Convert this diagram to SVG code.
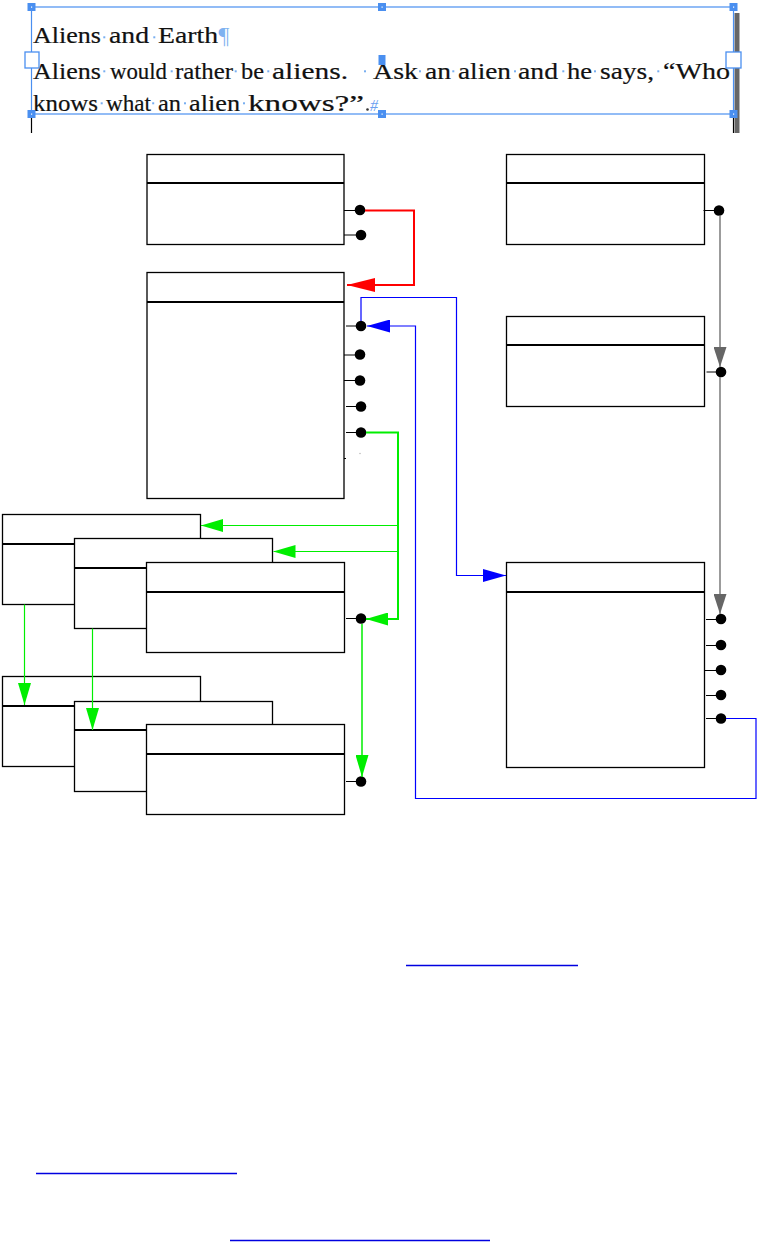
<svg xmlns="http://www.w3.org/2000/svg" width="784" height="1242" viewBox="0 0 784 1242">
<style>
.box{fill:#fff;stroke:#000;stroke-width:1.3}
.dv{stroke:#000;stroke-width:2}
.stub{stroke:#000;stroke-width:1}
.dot{fill:#000}
.frame{fill:none;stroke:#4a8ff0;stroke-width:1.2}
.h{fill:#4a8ff0}
.hc{fill:#fff}
.hh{fill:#fff;stroke:#4a8ff0;stroke-width:1.3}
.t{font-family:"Liberation Serif","Times New Roman",serif;font-size:24px;fill:#111;stroke:#111;stroke-width:0.2}
.mk{fill:#78aef0}
.link{stroke:#0000e0;stroke-width:1.5}
.red{fill:none;stroke:#ff0000;stroke-width:2}
.blue{fill:none;stroke:#0000ff;stroke-width:1.2}
.grn{fill:none;stroke:#00ee00;stroke-width:2}
.grn1{fill:none;stroke:#00ee00;stroke-width:1.2}
.gray{fill:none;stroke:#666;stroke-width:1.3}
</style>
<defs>
<marker id="aR" markerUnits="userSpaceOnUse" markerWidth="28" markerHeight="14" refX="28" refY="7" orient="auto"><path d="M0,0 L28,7 L0,14 z" fill="#ff0000"/></marker>
<marker id="aB" markerUnits="userSpaceOnUse" markerWidth="23" markerHeight="13" refX="23" refY="6.5" orient="auto"><path d="M0,0 L23,6.5 L0,13 z" fill="#0000ff"/></marker>
<marker id="aG" markerUnits="userSpaceOnUse" markerWidth="22" markerHeight="13" refX="22" refY="6.5" orient="auto"><path d="M0,0 L22,6.5 L0,13 z" fill="#00ee00"/></marker>
<marker id="aY" markerUnits="userSpaceOnUse" markerWidth="20" markerHeight="13" refX="20" refY="6.5" orient="auto"><path d="M0,0 L20,6.5 L0,13 z" fill="#666"/></marker>
</defs>
<rect width="784" height="1242" fill="#fff"/>

<g id="textframe">
<line x1="31.5" y1="114" x2="31.5" y2="133" stroke="#000" stroke-width="1.2"/>
<line x1="733.5" y1="114" x2="733.5" y2="133" stroke="#000" stroke-width="1.2"/>
<rect x="734.5" y="13" width="5" height="120" fill="#666"/>
<rect class="frame" x="31.5" y="7" width="702" height="107"/>
<text class="t" y="43"><tspan x="33" textLength="68" lengthAdjust="spacingAndGlyphs">Aliens</tspan> <tspan x="109" textLength="40" lengthAdjust="spacingAndGlyphs">and</tspan> <tspan x="158" textLength="60" lengthAdjust="spacingAndGlyphs">Earth</tspan><tspan x="218.5" fill="#7fb2f0" stroke="none">¶</tspan></text>
<text class="t" y="79"><tspan x="33" textLength="68" lengthAdjust="spacingAndGlyphs">Aliens</tspan> <tspan x="110" textLength="57" lengthAdjust="spacingAndGlyphs">would</tspan> <tspan x="175" textLength="58" lengthAdjust="spacingAndGlyphs">rather</tspan> <tspan x="241" textLength="23" lengthAdjust="spacingAndGlyphs">be</tspan> <tspan x="272" textLength="76" lengthAdjust="spacingAndGlyphs">aliens.</tspan> <tspan x="373" textLength="45" lengthAdjust="spacingAndGlyphs">Ask</tspan> <tspan x="425" textLength="26" lengthAdjust="spacingAndGlyphs">an</tspan> <tspan x="458" textLength="53" lengthAdjust="spacingAndGlyphs">alien</tspan> <tspan x="518" textLength="40" lengthAdjust="spacingAndGlyphs">and</tspan> <tspan x="567" textLength="25" lengthAdjust="spacingAndGlyphs">he</tspan> <tspan x="600" textLength="54" lengthAdjust="spacingAndGlyphs">says,</tspan> <tspan x="663" textLength="67" lengthAdjust="spacingAndGlyphs">“Who</tspan></text>
<text class="t" y="111"><tspan x="33" textLength="65" lengthAdjust="spacingAndGlyphs">knows</tspan> <tspan x="106" textLength="45" lengthAdjust="spacingAndGlyphs">what</tspan> <tspan x="158" textLength="23" lengthAdjust="spacingAndGlyphs">an</tspan> <tspan x="189" textLength="51" lengthAdjust="spacingAndGlyphs">alien</tspan> <tspan x="248" textLength="116" lengthAdjust="spacingAndGlyphs">knows?”</tspan><tspan x="370" font-size="16" font-style="italic" fill="#6aa0f0" stroke="none">#</tspan></text>
<circle cx="367.5" cy="109.5" r="1.3" fill="#333"/>
<g class="mk">
<rect x="103.3" y="36.3" width="2" height="2"/><rect x="153.3" y="36.3" width="2" height="2"/>
<rect x="103.3" y="70.3" width="2" height="2"/><rect x="170.7" y="70.3" width="2" height="2"/><rect x="234.7" y="70.3" width="2" height="2"/><rect x="267.3" y="70.3" width="2" height="2"/><rect x="364" y="70.3" width="2" height="2"/><rect x="419" y="70.3" width="2" height="2"/><rect x="452.3" y="70.3" width="2" height="2"/><rect x="514" y="70.3" width="2" height="2"/><rect x="562.3" y="70.3" width="2" height="2"/><rect x="594" y="70.3" width="2" height="2"/><rect x="657.3" y="70.3" width="2" height="2"/>
<rect x="100.7" y="102.3" width="2" height="2"/><rect x="152.2" y="102.3" width="2" height="2"/><rect x="184" y="102.3" width="2" height="2"/><rect x="243" y="102.3" width="2" height="2"/>
</g>
<rect class="h" x="27.5" y="3" width="8" height="8"/><rect class="h" x="378" y="3" width="8" height="8"/><rect class="h" x="729.5" y="3" width="8" height="8"/>
<rect class="h" x="27.5" y="110" width="8" height="8"/><rect class="h" x="378" y="110" width="8" height="8"/><rect class="h" x="729.5" y="110" width="8" height="8"/>
<rect class="h" x="378.5" y="55" width="7" height="10"/>
<rect class="hc" x="31" y="6.5" width="1.2" height="1.2"/><rect class="hc" x="381.5" y="6.5" width="1.2" height="1.2"/><rect class="hc" x="733" y="6.5" width="1.2" height="1.2"/>
<rect class="hc" x="31" y="113.5" width="1.2" height="1.2"/><rect class="hc" x="381.5" y="113.5" width="1.2" height="1.2"/><rect class="hc" x="733" y="113.5" width="1.2" height="1.2"/>
<rect class="hh" x="25" y="52" width="14" height="16"/>
<rect class="hh" x="726" y="52" width="15" height="16"/>
</g>

<g id="nodeA">
<rect class="box" x="147" y="154.5" width="197" height="90"/>
<line class="dv" x1="147" y1="183" x2="344" y2="183"/>
<line class="stub" x1="344" y1="210.5" x2="356" y2="210.5"/><circle class="dot" cx="360" cy="210" r="5.3"/>
<line class="stub" x1="344" y1="235" x2="356" y2="235"/><circle class="dot" cx="361" cy="235" r="5.3"/>
</g>
<g id="nodeB">
<rect class="box" x="147" y="272.5" width="197" height="226"/>
<line class="dv" x1="147" y1="302" x2="344" y2="302"/>
<line class="stub" x1="346" y1="326" x2="356" y2="326"/><circle class="dot" cx="361" cy="326" r="5.3"/>
<line class="stub" x1="344" y1="355" x2="356" y2="355"/><circle class="dot" cx="360" cy="354.5" r="5.3"/>
<line class="stub" x1="344" y1="380.5" x2="356" y2="380.5"/><circle class="dot" cx="360" cy="380.5" r="5.3"/>
<line class="stub" x1="346" y1="406.5" x2="356" y2="406.5"/><circle class="dot" cx="361" cy="406.5" r="5.3"/>
<line class="stub" x1="346" y1="432.5" x2="356" y2="432.5"/><circle class="dot" cx="361" cy="432.5" r="5.3"/>
<line class="stub" x1="344" y1="458.5" x2="346" y2="458.5"/><circle cx="360" cy="453.5" r="0.8" fill="#bbb"/>
</g>
<g id="nodeC1">
<rect class="box" x="2.5" y="514.5" width="198" height="90"/>
<line class="dv" x1="2.5" y1="544" x2="200.5" y2="544"/>
</g>
<g id="nodeC2">
<rect class="box" x="74.5" y="538.5" width="198" height="90"/>
<line class="dv" x1="74.5" y1="568" x2="272.5" y2="568"/>
</g>
<g id="nodeC3">
<rect class="box" x="146.5" y="562.5" width="198" height="90"/>
<line class="dv" x1="146.5" y1="592" x2="344.5" y2="592"/>
<line class="stub" x1="346" y1="618.5" x2="356" y2="618.5"/><circle class="dot" cx="361" cy="618.5" r="5.3"/>
</g>
<g id="nodeE1">
<rect class="box" x="2.5" y="676.5" width="198" height="90"/>
<line class="dv" x1="2.5" y1="706" x2="200.5" y2="706"/>
</g>
<g id="nodeE2">
<rect class="box" x="74.5" y="701.5" width="198" height="90"/>
<line class="dv" x1="74.5" y1="730" x2="272.5" y2="730"/>
</g>
<g id="nodeE3">
<rect class="box" x="146.5" y="724.5" width="198" height="90"/>
<line class="dv" x1="146.5" y1="754" x2="344.5" y2="754"/>
<line class="stub" x1="346" y1="781.5" x2="356" y2="781.5"/><circle class="dot" cx="361" cy="781.5" r="5.3"/>
</g>
<g id="nodeF">
<rect class="box" x="506.5" y="154.5" width="198" height="90"/>
<line class="dv" x1="506.5" y1="183" x2="704.5" y2="183"/>
<line class="stub" x1="703.5" y1="210.5" x2="715" y2="210.5"/><circle class="dot" cx="719" cy="210.5" r="5.3"/>
</g>
<g id="nodeG">
<rect class="box" x="506.5" y="316.5" width="198" height="90"/>
<line class="dv" x1="506.5" y1="345" x2="704.5" y2="345"/>
<line class="stub" x1="706.5" y1="372" x2="716" y2="372"/><circle class="dot" cx="721" cy="372" r="5.3"/>
</g>
<g id="nodeD">
<rect class="box" x="506.5" y="562.5" width="198" height="205"/>
<line class="dv" x1="506.5" y1="592" x2="704.5" y2="592"/>
<line class="stub" x1="706" y1="619.5" x2="716" y2="619.5"/><circle class="dot" cx="721" cy="619" r="5.3"/>
<line class="stub" x1="706" y1="645.5" x2="716" y2="645.5"/><circle class="dot" cx="721" cy="645" r="5.3"/>
<line class="stub" x1="704.5" y1="670.5" x2="716" y2="670.5"/><circle class="dot" cx="721" cy="670" r="5.3"/>
<line class="stub" x1="706" y1="695.5" x2="716" y2="695.5"/><circle class="dot" cx="721" cy="695" r="5.3"/>
<line class="stub" x1="706" y1="718.5" x2="716" y2="718.5"/><circle class="dot" cx="721" cy="718.5" r="5.3"/>
</g>

<g id="connectors">
<path class="red" d="M365,210.5 H414 V285 H347" marker-end="url(#aR)"/>
<path class="blue" d="M361,321 V297.5 H456.5 V575.5 H506" marker-end="url(#aB)"/>
<path class="blue" d="M726,718.5 H756 V798.5 H415.5 V326 H367" marker-end="url(#aB)"/>
<path class="grn" d="M366,432.5 H398 V619 H366" marker-end="url(#aG)"/>
<path class="grn1" d="M398,525.5 H201" marker-end="url(#aG)"/>
<path class="grn1" d="M398,551.5 H273.5" marker-end="url(#aG)"/>
<path class="grn1" style="stroke-width:1.5" d="M362,624 V777" marker-end="url(#aG)"/>
<path class="grn1" d="M24.5,604.5 V705" marker-end="url(#aG)"/>
<path class="grn1" d="M92.5,628.5 V730" marker-end="url(#aG)"/>
<path class="gray" d="M720,215.5 V367" marker-end="url(#aY)"/>
<path class="gray" d="M720,377 V614" marker-end="url(#aY)"/>
</g>

<g id="links">
<line class="link" x1="406" y1="965.5" x2="578" y2="965.5"/>
<line class="link" x1="36" y1="1173.5" x2="237" y2="1173.5"/>
<line class="link" x1="230" y1="1240.5" x2="490" y2="1240.5"/>
</g>
</svg>
